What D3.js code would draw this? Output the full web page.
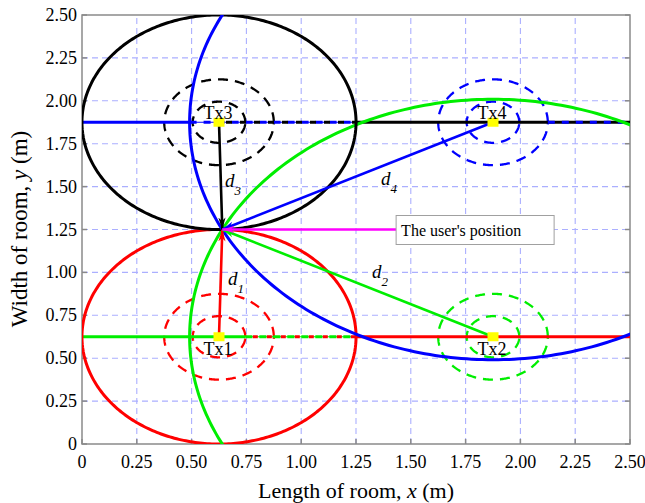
<!DOCTYPE html>
<html>
<head>
<meta charset="utf-8">
<script src="https://cdn.jsdelivr.net/npm/d3@7"></script>
<style>
  body { margin: 0; background: #fff; }
  text { font-family: "Liberation Serif", "Times New Roman", serif; fill: #000; }
</style>
</head>
<body>
<svg id="chart" width="645" height="503"></svg>
<script>
// Transmitter layout (metres) and the estimated user position
const txNames = ["Tx1", "Tx2", "Tx3", "Tx4"];
const txX = [0.625, 1.875, 0.625, 1.875];
const txY = [0.625, 0.625, 1.875, 1.875];
const userX = 0.64;
const userY = 1.25;
// Dashed reference rings drawn around each transmitter
const ringRadii = [0.12, 0.25];
// Axis ticks
const tickValues = [0, 0.25, 0.5, 0.75, 1, 1.25, 1.5, 1.75, 2, 2.25, 2.5];
const tickLabels = ["0", "0.25", "0.50", "0.75", "1.00", "1.25", "1.50", "1.75", "2.00", "2.25", "2.50"];
// Distance annotations d1..d4, anchored in room coordinates
const distIndex = ["1", "2", "3", "4"];
const distLabelX = [0.666, 1.323, 0.652, 1.364];
const distLabelY = [0.927, 0.967, 1.498, 1.509];
const userLabel = "The user's position";
const userLabelX = 1.433;
const xTitle = ["Length of room, ", "x", " (m)"];
const yTitle = ["Width of room, ", "y", " (m)"];

const colors = ["#ff0000", "#00ee00", "#000000", "#0000ff"];

const svg = d3.select("#chart");
const x = d3.scaleLinear().domain([0, 2.5]).range([82, 630]);
const y = d3.scaleLinear().domain([0, 2.5]).range([444, 15]);
const line = d3.line().x(d => x(d[0])).y(d => y(d[1]));

// Arrowhead markers, one per colour
const defs = svg.append("defs");
const markerColors = colors.concat(["#ff00ff"]);
markerColors.forEach((c, i) => {
  defs.append("marker")
    .attr("id", "arrow" + i)
    .attr("markerUnits", "userSpaceOnUse")
    .attr("viewBox", "-12 -5 13 10")
    .attr("refX", 0).attr("refY", 0)
    .attr("markerWidth", 13).attr("markerHeight", 10)
    .attr("orient", "auto")
    .append("path")
    .attr("d", "M0,0 L-12,-3.6 L-8.5,0 L-12,3.6 Z")
    .attr("fill", c);
});
defs.append("clipPath").attr("id", "plotClip")
  .append("rect")
  .attr("x", x(0)).attr("y", y(2.5))
  .attr("width", x(2.5) - x(0)).attr("height", y(0) - y(2.5));

// Grid
const grid = svg.append("g");
tickValues.slice(1, -1).forEach(v => {
  grid.append("line").attr("x1", x(v)).attr("x2", x(v)).attr("y1", y(0)).attr("y2", y(2.5));
  grid.append("line").attr("y1", y(v)).attr("y2", y(v)).attr("x1", x(0)).attr("x2", x(2.5));
});
grid.selectAll("line")
  .attr("stroke", "#abafff").attr("stroke-width", 1.1).attr("stroke-dasharray", "6,4");

// Frame with short inward ticks
const frame = svg.append("g").attr("stroke", "#8a8a8a").attr("stroke-width", 1.5).attr("fill", "none");
frame.append("rect").attr("x", x(0)).attr("y", y(2.5))
  .attr("width", x(2.5) - x(0)).attr("height", y(0) - y(2.5));
tickValues.forEach(v => {
  frame.append("line").attr("x1", x(0)).attr("x2", x(0) + 5).attr("y1", y(v)).attr("y2", y(v));
  frame.append("line").attr("x1", x(2.5)).attr("x2", x(2.5) - 5).attr("y1", y(v)).attr("y2", y(v));
  frame.append("line").attr("x1", x(v)).attr("x2", x(v)).attr("y1", y(0)).attr("y2", y(0) - 5);
});

// Tick labels
const labels = svg.append("g").style("font-size", "18px");
tickValues.forEach((v, i) => {
  labels.append("text").attr("x", 77).attr("y", y(v) + 6)
    .attr("text-anchor", "end").text(tickLabels[i]);
  labels.append("text").attr("x", x(v)).attr("y", 468)
    .attr("text-anchor", "middle").text(tickLabels[i]);
});

// Axis titles
const xt = svg.append("text").attr("x", 356).attr("y", 498)
  .attr("text-anchor", "middle").style("font-size", "22px");
xTitle.forEach((s, i) => xt.append("tspan").style("font-style", i === 1 ? "italic" : "normal").text(s));
const yt = svg.append("text").attr("transform", "translate(27,229) rotate(-90)")
  .attr("text-anchor", "middle").style("font-size", "23px");
yTitle.forEach((s, i) => yt.append("tspan").style("font-style", i === 1 ? "italic" : "normal").text(s));

// Plot content (clipped to the room)
const plot = svg.append("g").attr("clip-path", "url(#plotClip)");
const ranges = txX.map((tx, i) => Math.hypot(tx - userX, txY[i] - userY));

function ringPoints(cx, cy, r) {
  return d3.range(0, 361, 1).map(a => [cx + r * Math.cos(a * Math.PI / 180), cy + r * Math.sin(a * Math.PI / 180)]);
}

// Dashed rings around the transmitters
txX.forEach((tx, i) => {
  ringRadii.forEach(r => {
    plot.append("path").attr("d", line(ringPoints(tx, txY[i], r)))
      .attr("fill", "none").attr("stroke", colors[i])
      .attr("stroke-width", 2.3).attr("stroke-dasharray", "10,7");
  });
});

// Horizontal lines through the transmitter rows
function hSeg(yv, x0, x1, color, width, dash, offset) {
  const p = plot.append("path").attr("d", line([[x0, yv], [x1, yv]]))
    .attr("fill", "none").attr("stroke", color).attr("stroke-width", width);
  if (dash) p.attr("stroke-dasharray", dash).attr("stroke-dashoffset", offset || 0);
  return p;
}
const rowTop = txY[2];
const blueEdge = txX[3] - ranges[3];
const blackEdge = txX[2] + ranges[2];
const tx4Outer = txX[3] + ringRadii[1];
hSeg(rowTop, 0, blueEdge, colors[3], 3);
hSeg(rowTop, blueEdge, blackEdge, colors[3], 1.2);
hSeg(rowTop, blueEdge, blackEdge, colors[3], 3, "7,7", 0);
hSeg(rowTop, txX[2], blackEdge, colors[2], 3, "6,8", -7);
hSeg(rowTop, blackEdge, 2.5, colors[2], 3);
hSeg(rowTop, tx4Outer, 2.5, colors[3], 3, "7,7", 0);

const rowBottom = txY[0];
const redEdge = txX[0] + ranges[0];
const tx1Inner = txX[0] + ringRadii[0];
hSeg(rowBottom, 0, tx1Inner, colors[1], 3);
hSeg(rowBottom, tx1Inner, redEdge, colors[1], 1.2);
hSeg(rowBottom, tx1Inner, redEdge, colors[1], 3, "7,7", 0);
hSeg(rowBottom, tx1Inner, redEdge, colors[0], 3, "5,9", -7.5);
hSeg(rowBottom, redEdge, 2.5, colors[0], 3);

// Range circles through the user position
txX.forEach((tx, i) => {
  plot.append("path").attr("d", line(ringPoints(tx, txY[i], ranges[i])))
    .attr("fill", "none").attr("stroke", colors[i]).attr("stroke-width", 3);
});

// Distance vectors from each transmitter to the user
txX.forEach((tx, i) => {
  svg.append("path").attr("d", line([[tx, txY[i]], [userX, userY]]))
    .attr("fill", "none").attr("stroke", colors[i]).attr("stroke-width", 2.6)
    .attr("marker-end", "url(#arrow" + i + ")");
});

// Pointer to the user position
svg.append("path").attr("d", line([[userLabelX, userY], [userX, userY]]))
  .attr("fill", "none").attr("stroke", "#ff00ff").attr("stroke-width", 2.6)
  .attr("marker-end", "url(#arrow4)");
const lbl = svg.append("g");
lbl.append("rect").attr("x", x(userLabelX)).attr("y", y(userY) - 14)
  .attr("width", 158).attr("height", 29)
  .attr("fill", "#fff").attr("stroke", "#a0a0a0").attr("stroke-width", 1);
lbl.append("text").attr("x", x(userLabelX) + 5).attr("y", y(userY) + 6)
  .style("font-size", "16px").text(userLabel);

// Transmitter markers and names
txX.forEach((tx, i) => {
  svg.append("rect").attr("x", x(tx) - 5.5).attr("y", y(txY[i]) - 4.5)
    .attr("width", 11).attr("height", 9).attr("fill", "#ffff00");
  const below = txY[i] < userY;
  svg.append("text").attr("x", x(tx) - 1)
    .attr("y", below ? y(txY[i]) + 18 : y(txY[i]) - 3)
    .attr("text-anchor", "middle").style("font-size", "18px")
    .text(txNames[i]);
});

// d_i labels
distIndex.forEach((s, i) => {
  const t = svg.append("text").attr("x", x(distLabelX[i])).attr("y", y(distLabelY[i]))
    .style("font-style", "italic");
  t.append("tspan").style("font-size", "19px").text("d");
  t.append("tspan").attr("dy", 8).style("font-size", "13px").text(s);
});
</script>
</body>
</html>
